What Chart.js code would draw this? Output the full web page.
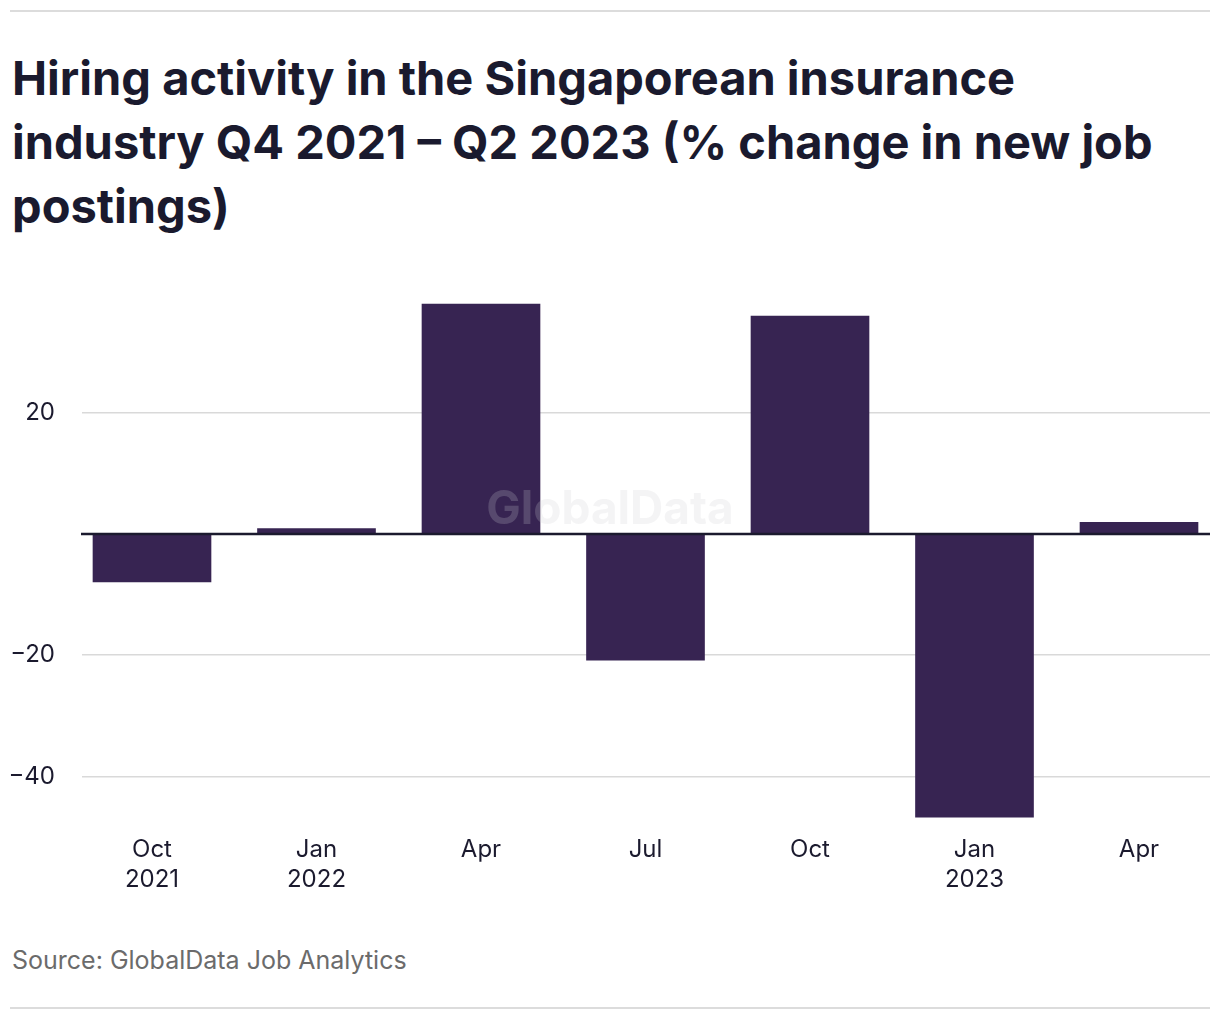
<!DOCTYPE html>
<html><head><meta charset="utf-8">
<script src="https://cdn.jsdelivr.net/npm/chart.js@4.4.0/dist/chart.umd.min.js"></script>
<style>
body{margin:0;background:#fff;width:1220px;height:1020px;position:relative;overflow:hidden;font-family:Inter,"Noto Sans",sans-serif;}
.rule{position:absolute;left:10px;width:1200px;height:2px;background:#dcdcdc;}
#title{position:absolute;left:12px;top:46px;width:1210px;font-size:47px;font-weight:700;line-height:64px;color:#1a1a2e;margin:0;white-space:nowrap;}
#src{position:absolute;left:12px;top:945px;font-size:25px;line-height:30px;color:#6b6b6b;}
#wrap{position:absolute;left:0;top:258.5px;width:1220px;height:641.5px;}
</style></head>
<body>
<div class="rule" style="top:10px"></div>
<h1 id="title">Hiring activity in the Singaporean insurance<br>industry Q4 2021 – Q2 2023 (% change in new job<br>postings)</h1>
<div id="wrap"><canvas id="c"></canvas></div>
<div id="src">Source: GlobalData Job Analytics</div>
<div class="rule" style="top:1007px"></div>
<script>
const categories = [["Oct","2021"],["Jan","2022"],["Apr"],["Jul"],["Oct"],["Jan","2023"],["Apr"]];
const values = [-7.9, 0.9, 37.9, -20.8, 35.9, -46.7, 1.9];
const yTicks = [-40, -20, 20];

const ink = '#1b1a2e';
const overlay = {
  id: 'overlay',
  afterDatasetsDraw(chart) {
    const {ctx, chartArea, scales} = chart;
    const y0 = scales.y.getPixelForValue(0);
    ctx.save();
    ctx.strokeStyle = ink;
    ctx.lineWidth = 2.5;
    ctx.beginPath();
    ctx.moveTo(chartArea.left - 1, y0);
    ctx.lineTo(chartArea.right, y0);
    ctx.stroke();
    ctx.font = 'bold 46px Inter, "Noto Sans", sans-serif';
    ctx.fillStyle = 'rgba(205,205,210,0.22)';
    ctx.textAlign = 'center';
    ctx.textBaseline = 'middle';
    ctx.fillText('GlobalData', 610, 251.5);
    ctx.restore();
  }
};

new Chart(document.getElementById('c'), {
  type: 'bar',
  data: {
    datasets: [{
      data: values.map((v, i) => ({x: i, y: v})),
      backgroundColor: '#372452',
      borderWidth: 0,
      barThickness: 118
    }]
  },
  plugins: [overlay],
  options: {
    responsive: true,
    maintainAspectRatio: false,
    animation: false,
    layout: {padding: {top: 19.7, right: 10, left: 0, bottom: 0}},
    plugins: {legend: {display: false}, tooltip: {enabled: false}},
    scales: {
      x: {
        type: 'linear',
        offset: false,
        min: -0.4255,
        max: 6.4316,
        grid: {display: false, offset: false},
        border: {display: false},
        afterBuildTicks: s => { s.ticks = categories.map((c, i) => ({value: i})); },
        afterFit: s => { s.height = 81.5; },
        ticks: {
          padding: 8,
          color: ink,
          font: {family: 'Inter, "Noto Sans", sans-serif', size: 24, lineHeight: 1.25},
          callback: v => categories[v]
        }
      },
      y: {
        min: -47,
        max: 38.5,
        afterBuildTicks: s => { s.ticks = yTicks.map(v => ({value: v})); },
        afterFit: s => { s.width = 82; },
        border: {display: false},
        grid: {
          drawTicks: false,
          color: '#d9d9d9',
          lineWidth: 1.5
        },
        ticks: {
          padding: 27,
          color: ink,
          font: {family: 'Inter, "Noto Sans", sans-serif', size: 24},
          callback: v => v < 0 ? '\u2212' + Math.abs(v) : String(v)
        }
      }
    }
  }
});
</script>
</body></html>
